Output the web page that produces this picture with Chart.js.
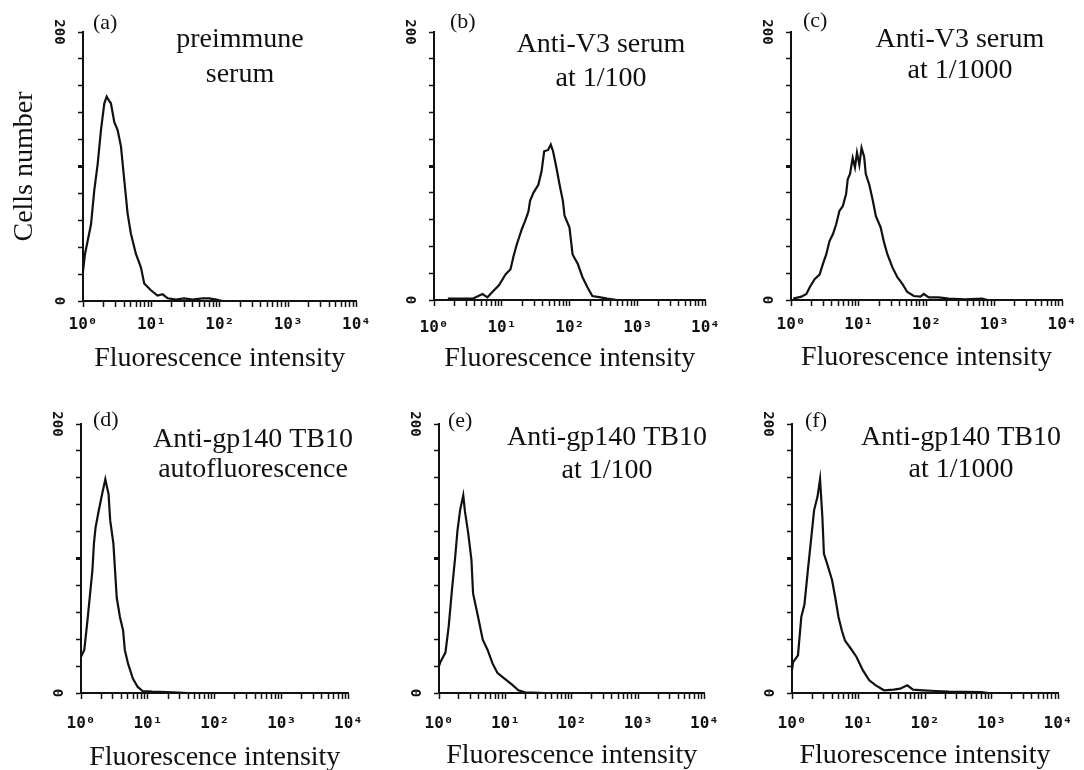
<!DOCTYPE html>
<html>
<head>
<meta charset="utf-8">
<script src="https://cdn.jsdelivr.net/npm/chart.js@4.4.0/dist/chart.umd.min.js"></script>
<style>
  body { margin: 0; background: #fff; width: 1084px; height: 770px; position: relative; overflow: hidden; }
  .cell { position: absolute; }
</style>
</head>
<body>
<div id="grid"></div>
<script>
// Fluorescence channel values (x) and cell counts (y)
const aX = [1.0, 1.07, 1.31, 1.46, 1.64, 1.83, 2.05, 2.22, 2.4, 2.56, 2.87, 3.21, 3.59, 4.01, 4.49, 5.02, 5.94, 7.03, 7.85, 9.84, 12.3, 14.6, 17.3, 22.9, 30, 40, 56, 70, 89, 110];
const aY = [22, 35, 57, 82, 102, 127, 147, 152, 149, 147, 133, 127, 115, 90, 65, 50, 35, 25, 13, 8, 4, 5, 2, 1, 2, 1, 2, 2, 1, 0];

const bX = [1.6, 3.71, 5.18, 6.12, 7.23, 9.05, 11.3, 13.4, 14.9, 16.7, 19.7, 22.0, 24.6, 26.0, 29.1, 34.4, 38.4, 42.0, 48.0, 52.5, 56.7, 63.4, 70.8, 79.2, 83.7, 99, 110, 131, 154, 182, 215, 284, 355, 500];
const bY = [1, 1, 4.5, 2, 6, 11, 19, 23, 33, 42, 53, 59, 66, 74, 80, 86, 96, 111, 112, 116, 111, 99, 86, 74, 63, 54, 34, 27, 17, 9.5, 3, 2, 1, 0];

const cX = [1.08, 1.42, 1.69, 1.88, 2.23, 2.64, 2.96, 3.31, 3.70, 4.15, 4.64, 5.18, 5.81, 6.50, 6.87, 7.43, 8.14, 8.79, 9.41, 10.2, 11.0, 12.0, 12.7, 14.3, 16.0, 17.9, 21.1, 23.6, 26.5, 31.3, 37.1, 44.0, 52.0, 65.0, 81.4, 91.0, 108, 151, 211, 371, 658, 800];
const cY = [1, 2.5, 4.5, 9.4, 15.6, 19, 27, 34, 44, 49, 56.5, 66.5, 70, 79, 90, 94, 106, 99, 110, 101, 113.5, 107, 94, 86, 75, 62.5, 54, 43, 34, 24.5, 17, 12, 6, 3, 2.5, 4.5, 2, 2, 1, 0.5, 1, 0];

const dX = [1.0, 1.12, 1.25, 1.32, 1.48, 1.56, 1.65, 1.85, 2.07, 2.31, 2.45, 2.58, 2.73, 3.05, 3.23, 3.42, 3.82, 4.26, 4.52, 5.04, 5.96, 7.05, 8.33, 11.6, 24.1, 40];
const dY = [27, 32, 54, 66, 91, 111, 123, 136, 148, 159, 153, 148, 128.5, 111, 91, 71, 56.5, 46.5, 32, 22, 10.7, 4.5, 1.5, 1, 0.5, 0];

const eX = [1.0, 1.06, 1.25, 1.40, 1.57, 1.76, 1.90, 2.08, 2.32, 2.46, 2.75, 3.08, 3.26, 3.86, 4.56, 5.40, 6.40, 7.57, 9.49, 12.6, 15.7, 19.7, 40];
const eY = [20, 23.5, 30, 49.6, 77, 102, 121, 136, 147, 135, 119, 99, 74, 57, 39.6, 32, 22, 15, 11, 6.2, 2, 0.5, 0];

const fX = [1.0, 1.04, 1.23, 1.38, 1.54, 1.73, 1.93, 2.15, 2.42, 2.64, 2.86, 3.02, 3.38, 4.00, 4.47, 5.00, 5.61, 6.26, 7.41, 9.29, 11.6, 14.5, 18.2, 24.1, 33.7, 42.3, 54.0, 66.1, 92.5, 145, 227, 698, 900];
const fY = [17, 23, 28, 56.5, 66, 91, 113.5, 136, 146, 159, 131, 103.5, 96, 84, 71, 56.5, 46.5, 39, 34, 27, 17, 9.4, 5.7, 2, 2.5, 3.2, 5.7, 2.5, 2, 1.5, 1, 0.7, 0];

const letters = ['(a)', '(b)', '(c)', '(d)', '(e)', '(f)'];
const captions = [
  ['preimmune', 'serum'],
  ['Anti-V3 serum', 'at 1/100'],
  ['Anti-V3 serum', 'at 1/1000'],
  ['Anti-gp140 TB10', 'autofluorescence'],
  ['Anti-gp140 TB10', 'at 1/100'],
  ['Anti-gp140 TB10', 'at 1/1000']
];

// axis ticks
const xDecades = [1, 10, 100, 1000, 10000];
const xDecadeLabels = ['10⁰', '10¹', '10²', '10³', '10⁴'];
const yLabelled = [0, 200];

const xTickValues = [];
for (let e = 0; e < 4; e++) {
  for (let m = 1; m < 10; m++) xTickValues.push(m * Math.pow(10, e));
}
xTickValues.push(10000);

// layout of each panel: plot area [left, top, right, bottom] in page pixels
const layout = [
  { area: [83, 32, 357, 301], yW: 75, xH: 74, tickPad: 8, lx: 10, ly: -3, tx: 157, ty: [15, 50], yTitle: 'Cells number' },
  { area: [434, 32, 710, 300], yW: 40, xH: 75, tickPad: 12, lx: 16, ly: -4, tx: 167, ty: [20, 54] },
  { area: [790.5, 32, 1063, 300], yW: 40, xH: 74, tickPad: 9, lx: 12, ly: -5, tx: 169, ty: [15, 46] },
  { area: [81, 424, 356, 693], yW: 40, xH: 81, tickPad: 15, lx: 12, ly: 2, tx: 172, ty: [23, 53] },
  { area: [439, 424, 712, 693], yW: 40, xH: 79, tickPad: 15, lx: 9, ly: 3, tx: 168, ty: [21, 54] },
  { area: [791.5, 424, 1065, 693], yW: 40, xH: 79, tickPad: 15, lx: 13, ly: 3, tx: 169, ty: [21, 53] }
];

const series = [[aX, aY], [bX, bY], [cX, cY], [dX, dY], [eX, eY], [fX, fY]];

const ink = '#111';
const serif = '"Liberation Serif", "Times New Roman", serif';

// panel letter and caption drawn at the chart area
const captionPlugin = {
  id: 'caption',
  afterDraw(chart, args, o) {
    const ctx = chart.ctx;
    const a = chart.chartArea;
    ctx.save();
    ctx.fillStyle = ink;
    ctx.textBaseline = 'alphabetic';
    ctx.font = '22px ' + serif;
    ctx.textAlign = 'left';
    ctx.fillText(o.letter, a.left + o.lx, a.top + o.ly);
    ctx.font = '28px ' + serif;
    ctx.textAlign = 'center';
    o.lines.forEach((t, i) => ctx.fillText(t, a.left + o.tx, a.top + o.ty[i]));
    ctx.restore();
  }
};

const grid = document.getElementById('grid');

series.forEach(([xs, ys], i) => {
  const L = layout[i];
  const [left, top, right, bottom] = L.area;
  const padL = 8, padT = 32, padR = 22, padB = 6;
  const cellLeft = left - L.yW - padL;
  const cellTop = top - padT;
  const cellW = right + padR - cellLeft;
  const cellH = bottom + L.xH + padB - cellTop;

  const div = document.createElement('div');
  div.className = 'cell';
  div.style.left = cellLeft + 'px';
  div.style.top = cellTop + 'px';
  div.style.width = cellW + 'px';
  div.style.height = cellH + 'px';
  const canvas = document.createElement('canvas');
  div.appendChild(canvas);
  grid.appendChild(div);

  new Chart(canvas.getContext('2d'), {
    type: 'line',
    data: {
      datasets: [{
        data: xs.map((x, k) => ({ x: x, y: ys[k] })),
        borderColor: ink,
        borderWidth: 2.2,
        pointRadius: 0,
        tension: 0,
        fill: false
      }]
    },
    options: {
      responsive: true,
      maintainAspectRatio: false,
      animation: false,
      layout: { padding: { left: padL, top: padT, right: padR, bottom: padB } },
      plugins: {
        legend: { display: false },
        tooltip: { enabled: false },
        caption: { letter: letters[i], lines: captions[i], lx: L.lx, ly: L.ly, tx: L.tx, ty: L.ty }
      },
      scales: {
        x: {
          type: 'logarithmic',
          min: 1,
          max: 10000,
          afterBuildTicks: (scale) => { scale.ticks = xTickValues.map(v => ({ value: v })); },
          afterFit: (scale) => { scale.height = L.xH; },
          border: { display: true, color: ink, width: 2 },
          grid: { drawOnChartArea: false, drawTicks: true, tickLength: 6, tickColor: ink, tickWidth: 1.5 },
          ticks: {
            autoSkip: false,
            maxRotation: 0,
            padding: L.tickPad,
            color: ink,
            font: { family: '"DejaVu Sans Mono", monospace', size: 16, weight: 'bold' },
            callback: (v) => {
              const k = xDecades.indexOf(v);
              return k >= 0 ? xDecadeLabels[k] : '';
            }
          },
          title: {
            display: true,
            text: 'Fluorescence intensity',
            color: ink,
            padding: 0,
            font: { family: serif, size: 28 }
          }
        },
        y: {
          min: 0,
          max: 200,
          afterFit: (scale) => { scale.width = L.yW; },
          border: { display: true, color: ink, width: 2 },
          grid: {
            drawOnChartArea: false,
            drawTicks: true,
            tickLength: 5,
            tickColor: ink,
            tickWidth: (c) => (c.tick && c.tick.value === 100 ? 3 : 1.5)
          },
          ticks: {
            stepSize: 20,
            autoSkip: false,
            minRotation: -90,
            maxRotation: -90,
            crossAlign: 'center',
            padding: 7,
            color: ink,
            font: { family: '"DejaVu Sans Mono", monospace', size: 14, weight: 'bold' },
            callback: (v) => (yLabelled.includes(v) ? String(v) : '')
          },
          title: {
            display: !!L.yTitle,
            text: L.yTitle || '',
            color: ink,
            padding: 0,
            font: { family: serif, size: 28 }
          }
        }
      }
    },
    plugins: [captionPlugin]
  });
});
</script>
</body>
</html>
